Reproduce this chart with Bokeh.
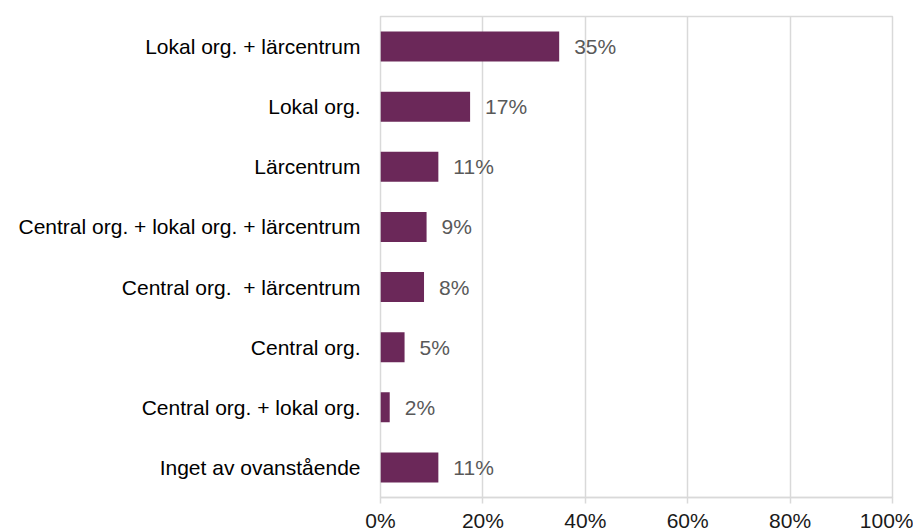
from bokeh.plotting import figure
from bokeh.models import FactorRange, Range1d, FixedTicker, ColumnDataSource
from bokeh.core.properties import value
from bokeh.embed import file_html
from bokeh.resources import INLINE

categories = [
    "Lokal org. + lärcentrum",
    "Lokal org.",
    "Lärcentrum",
    "Central org. + lokal org. + lärcentrum",
    "Central org.\u00a0 + lärcentrum",
    "Central org.",
    "Central org. + lokal org.",
    "Inget av ovanstående",
]
values = [34.9, 17.5, 11.3, 9.0, 8.5, 4.7, 1.8, 11.3]
value_labels = ["35%", "17%", "11%", "9%", "8%", "5%", "2%", "11%"]
x_ticks = [0, 20, 40, 60, 80, 100]
x_tick_labels = ["0%", "20%", "40%", "60%", "80%", "100%"]

FONT = "Liberation Sans"
GRID = "#d9d9d9"

src = ColumnDataSource(dict(cat=categories, val=values, lab=value_labels))

p = figure(
    width=913, height=534,
    y_range=FactorRange(factors=list(reversed(categories)), range_padding=0),
    x_range=Range1d(0, 100),
    output_backend="svg", toolbar_location=None,
    min_border_left=380, min_border_right=21, min_border_top=16, min_border_bottom=34,
)

p.hbar(y="cat", right="val", left=0, height=0.5, source=src,
       fill_color="#6B2859", line_color=None)

p.text(x="val", y="cat", text="lab", source=src, x_offset=15,
       text_align="left", text_baseline="middle",
       text_font=value(FONT), text_font_size="21px", text_color="#595959")

p.outline_line_color = GRID
p.outline_line_width = 1.5
p.background_fill_color = "white"
p.border_fill_color = "white"

p.ygrid.grid_line_color = None
p.xgrid.grid_line_color = GRID
p.xgrid.grid_line_width = 1.5
p.xgrid.ticker = FixedTicker(ticks=x_ticks)

xa = p.xaxis[0]
xa.ticker = FixedTicker(ticks=x_ticks)
xa.major_label_overrides = {t: l for t, l in zip(x_ticks, x_tick_labels)}
xa.axis_line_color = GRID
xa.axis_line_width = 1.5
xa.major_tick_line_color = GRID
xa.major_tick_line_width = 1.5
xa.major_tick_out = 6
xa.major_tick_in = 0
xa.minor_tick_line_color = None
xa.major_label_standoff = 5
xa.major_label_text_line_height = 1.0
xa.major_label_text_font = FONT
xa.major_label_text_font_size = "21px"
xa.major_label_text_color = "#1a1a1a"

ya = p.yaxis[0]
ya.axis_line_color = None
ya.major_tick_line_color = None
ya.minor_tick_line_color = None
ya.major_tick_out = 0
ya.major_tick_in = 0
ya.major_label_standoff = 20
ya.major_label_text_font = FONT
ya.major_label_text_font_size = "21px"
ya.major_label_text_color = "#000000"

open("out.html", "w").write(file_html(p, INLINE))
